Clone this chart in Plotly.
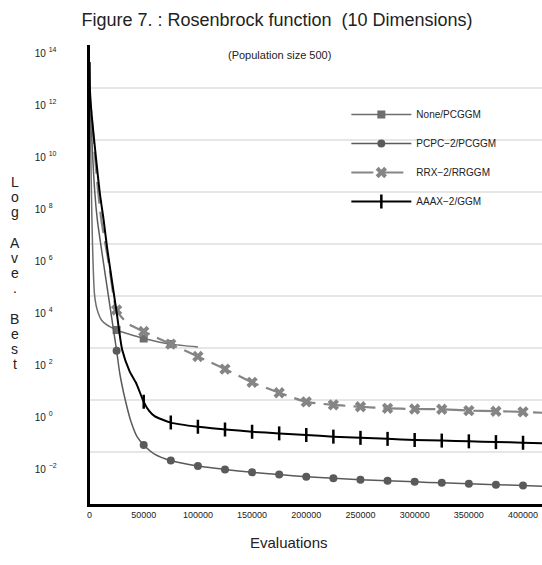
import plotly.graph_objects as go
import numpy as np

# ---------------- data ----------------
series_names = ["None/PCGGM", "PCPC\u22122/PCGGM", "RRX\u22122/RRGGM", "AAAX\u22122/GGM"]

none_x = [0, 1000, 2000, 3000, 4500, 6000, 8000, 11000, 15000, 20000, 25000, 37500, 50000, 75000, 100000]
none_y = [1e13, 1e10, 2.5e7, 4.0e5, 1.26e4, 4.5e3, 2.24e3, 1.2e3, 8.3e2, 6.2e2, 4.9e2, 3.3e2, 2.34e2, 1.41e2, 1.1e2]
none_markers = [25000, 50000, 75000]

pcpc_x = [0, 700, 4850, 7300, 25000, 28000, 33000, 38000, 44000, 50000, 60000, 75000,
          100000, 125000, 150000, 175000, 200000, 225000, 250000, 275000, 300000,
          325000, 350000, 375000, 400000, 420000]
pcpc_y = [1e13, 4.0e11, 1e8, 7.9e6, 79, 10, 1.0, 0.16, 0.038, 0.0186, 0.0083, 0.0047,
          0.0029, 0.00214, 0.00166, 0.00135, 0.00112, 0.00098, 0.00085, 0.00079, 0.00071,
          0.00065, 0.0006, 0.00055, 0.00052, 0.00048]
pcpc_markers = list(range(25000, 400001, 25000))

rrx_x = [0, 700, 8000, 11000, 18000, 25000, 35000, 50000, 75000,
         100000, 125000, 150000, 175000, 200000, 225000, 250000, 275000, 300000,
         325000, 350000, 375000, 400000, 420000]
rrx_y = [1e13, 4e11, 1e8, 7.9e6, 1.6e5, 2.9e3, 8.9e2, 4.3e2, 1.41e2,
         47, 15.5, 4.8, 1.9, 0.85, 0.65, 0.55, 0.48, 0.45,
         0.44, 0.39, 0.37, 0.35, 0.32]
rrx_markers = list(range(25000, 400001, 25000))

aaax_x = [0, 700, 9400, 13100, 16500, 25000, 30200, 37000, 43000, 50000, 55000, 60000, 75000,
          100000, 125000, 150000, 175000, 200000, 225000, 250000, 275000, 300000,
          325000, 350000, 375000, 400000, 420000]
aaax_y = [1e13, 4e11, 1e8, 7.9e6, 5.9e5, 2.4e3, 83, 12.6, 4.5, 0.85, 0.38, 0.24, 0.135,
          0.093, 0.074, 0.060, 0.052, 0.045, 0.039, 0.035, 0.032, 0.029,
          0.0275, 0.0257, 0.024, 0.0229, 0.0214]
aaax_markers = list(range(50000, 400001, 25000))

x_tick_vals = [0, 50000, 100000, 150000, 200000, 250000, 300000, 350000, 400000]
x_tick_text = ["0", "50000", "100000", "150000", "200000", "250000", "300000", "350000", "400000"]
y_exponents = [-2, 0, 2, 4, 6, 8, 10, 12, 14]
y_tick_text = ["10 <sup>\u22122</sup>", "10 <sup>0</sup>", "10 <sup>2</sup>", "10 <sup>4</sup>",
               "10 <sup>6</sup>", "10 <sup>8</sup>", "10 <sup>10</sup>", "10 <sup>12</sup>",
               "10 <sup>14</sup>"]

# ---------------- styles ----------------
FONT = "Liberation Sans, Arial, sans-serif"
styles = [
    dict(color="#6e6e6e", width=1.5, dash="solid", symbol="square", msize=8, mline=0),
    dict(color="#5a5a5a", width=1.5, dash="solid", symbol="circle", msize=8, mline=0),
    dict(color="#858585", width=2.2, dash="22px,8px", symbol="x", msize=10, mline=0),
    dict(color="#000000", width=2.0, dash="solid", symbol="line-ns", msize=10, mline=2.5),
]
data = [(none_x, none_y, none_markers), (pcpc_x, pcpc_y, pcpc_markers),
        (rrx_x, rrx_y, rrx_markers), (aaax_x, aaax_y, aaax_markers)]

fig = go.Figure()
for name, (xs, ys, mk), st in zip(series_names, data, styles):
    xs = np.array(xs, dtype=float)
    ys = np.array(ys, dtype=float)
    mask = np.isin(xs, mk)
    fig.add_trace(go.Scatter(x=xs, y=ys, mode="lines", showlegend=False, hoverinfo="skip",
                             line=dict(color=st["color"], width=st["width"], dash=st["dash"],
                                       shape="spline", smoothing=0.6)))
    mk_style = dict(symbol=st["symbol"], size=st["msize"], color=st["color"])
    if st["mline"]:
        mk_style["line"] = dict(width=st["mline"], color=st["color"])
    else:
        mk_style["line"] = dict(width=0)
    fig.add_trace(go.Scatter(x=xs[mask], y=ys[mask], mode="markers", showlegend=False,
                             marker=mk_style))
    # legend entry
    fig.add_trace(go.Scatter(x=[None], y=[None], mode="lines+markers", name=name,
                             legendgroup=name,
                             line=dict(color=st["color"], width=st["width"], dash=st["dash"]),
                             marker=mk_style))

W, H = 542, 565
L_AX = 87
PH = 459  # plot-area height in px
fig.update_layout(
    width=W, height=H,
    margin=dict(l=0, r=0, t=45, b=61),
    paper_bgcolor="white", plot_bgcolor="white",
    font=dict(family=FONT, color="#222222"),
    title=dict(text="Figure 7. : Rosenbrock function&nbsp;&nbsp;(10 Dimensions)",
               x=277 / W, xanchor="center", y=1 - 20 / H, yanchor="middle",
               font=dict(size=18, color="#222222")),
    xaxis=dict(domain=[L_AX / W, 1], range=[0, 417500], tickvals=x_tick_vals,
               ticktext=x_tick_text, tickfont=dict(size=9), showgrid=False, zeroline=False,
               showline=True, linecolor="black", linewidth=3, ticks=""),
    yaxis=dict(type="log", range=[-4, 13.654], tickvals=[10.0 ** e for e in y_exponents],
               showticklabels=False, showgrid=True, gridcolor="#e6e6e6", gridwidth=2,
               zeroline=False, showline=True, linecolor="black", linewidth=3, ticks=""),
    yaxis2=dict(type="log", overlaying="y", anchor="free", position=0.057, side="right",
                range=[-3.346, 14.308], tickvals=[10.0 ** e for e in y_exponents],
                ticktext=y_tick_text, tickfont=dict(size=10), showgrid=False,
                zeroline=False, showline=False, ticks=""),
    legend=dict(x=0.637, y=(504 - 100) / PH, xanchor="left", yanchor="top",
                bgcolor="rgba(0,0,0,0)", font=dict(size=10), tracegroupgap=10, itemwidth=60),
    showlegend=True,
    shapes=[dict(type="rect", xref="paper", yref="paper", x0=333 / W, x1=1.0,
                 y0=(504 - 238) / PH, y1=(504 - 93) / PH, fillcolor="white",
                 line=dict(width=0), layer="between")],
)
# dummy trace so yaxis2 is drawn
fig.add_trace(go.Scatter(x=[None], y=[None], yaxis="y2", showlegend=False))

fig.add_annotation(text="(Population size 500)", x=278 / W, y=(504 - 47) / PH,
                   xref="paper", yref="paper", showarrow=False, font=dict(size=11))
fig.add_annotation(text="Evaluations", x=288 / W, y=(504 - 553) / PH,
                   xref="paper", yref="paper", showarrow=False, font=dict(size=15))
for i, ch in enumerate("Log Ave. Best"):
    if ch == " ":
        continue
    py = 182 + 15.2 * i
    fig.add_annotation(text=ch, x=12 / W, y=(504 - py) / PH, xref="paper", yref="paper",
                       showarrow=False, font=dict(size=14), xanchor="center", yanchor="middle")

fig.write_html("out.html")
